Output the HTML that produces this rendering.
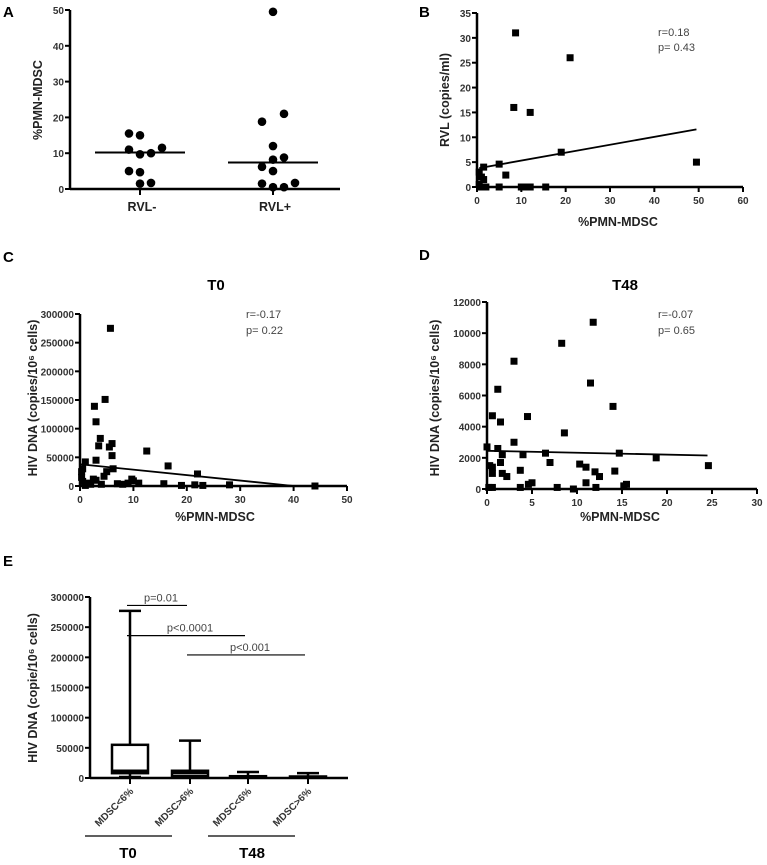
<!DOCTYPE html>
<html><head><meta charset="utf-8"><style>
html,body{margin:0;padding:0;background:#fff;}
svg{display:block;font-family:"Liberation Sans",Arial,sans-serif;}
.tk{font-size:10px;font-weight:bold;fill:#333;}
.lab{font-size:12.5px;font-weight:bold;fill:#222;}
.pl{font-size:15px;font-weight:bold;fill:#000;}
.st{font-size:11px;fill:#444;}
</style></head><body>
<svg id="fig" width="767" height="865" viewBox="0 0 767 865" xmlns="http://www.w3.org/2000/svg">
<text class="pl" x="3" y="17">A</text>
<text class="pl" x="419" y="17">B</text>
<text class="pl" x="3" y="262">C</text>
<text class="pl" x="419" y="260">D</text>
<text class="pl" x="3" y="566">E</text>
</svg>
<script>
// ---------- data ----------
const aTicks=[0,10,20,30,40,50];
const aCats=["RVL-","RVL+"];
const aNegVals=[15.5,15,11,11.5,9.7,10,5,4.7,1.5,1.7];
const aNegOff=[-1,0,-1,2,0,1,-1,0,0,1];
const aPosVals=[49.5,21,18.8,12,8.2,8.8,6.2,5,1.5,0.5,1.7,0.5];
const aPosOff=[0,1,-1,0,0,1,-1,0,-1,0,2,1];
const aMedians=[10.2,7.4];

const bTicksY=[0,5,10,15,20,25,30,35];
const bTicksX=[0,10,20,30,40,50,60];
const bX=[8.7,21,8.3,12,19,49.5,5,6.5,1.5,0.5,1,1.5,1,2,5,10,11,12,15.5,0.5];
const bY=[31,26,16,15,7,5,4.6,2.4,4,3,2,1.5,0,0,0,0,0,0,0,0.5];
const bFit=[[0.5,3.8],[49.5,11.6]];

const cTicksY=[0,50000,100000,150000,200000,250000,300000];
const cTicksX=[0,10,20,30,40,50];
const cX=[5.7,4.7,2.7,3,3.8,3.5,5.5,6,6,12.5,16.5,22,3,1,0.5,0.3,4.5,5,6.2,2.5,3,9.7,10,1.5,0.5,2,4,7,8,9,11,15.7,19,21.5,23,28,44,1,0.3];
const cY=[275000,151000,139000,112000,83000,70000,68000,74000,53000,61000,35000,21000,45000,42000,30000,25000,17000,25000,30000,12000,10000,12000,9000,5000,8000,3000,3000,4000,3000,5000,5000,4000,1000,2000,1000,2000,0,1000,15000];
const cFit=[[0,38000],[40,0]];

const dTicksY=[0,2000,4000,6000,8000,10000,12000];
const dTicksX=[0,5,10,15,20,25,30];
const dX=[11.8,8.3,3,11.5,1.2,14,0.6,4.5,1.5,8.6,3,0,1.2,1.7,4,6.5,7,14.7,18.8,24.6,0.3,0.6,1.5,1.7,0.6,2.2,3.7,10.3,11,12,12.5,14.2,0.6,0.2,3.7,4.6,5,7.8,9.6,11,12.1,15.2,15.5];
const dY=[10700,9350,8200,6800,6400,5300,4700,4650,4300,3600,3000,2700,2600,2200,2200,2300,1700,2300,2000,1500,1500,1400,1700,1000,1000,800,1200,1600,1400,1100,800,1150,100,100,100,300,400,100,0,400,100,200,300];
const dFit=[[0,2450],[24.5,2150]];

const eTicksY=[0,50000,100000,150000,200000,250000,300000];
const eCats=["MDSC<6%","MDSC>6%","MDSC<6%","MDSC>6%"];
const eMin=[2000,0,0,0];
const eQ1=[8000,3000,1000,500];
const eMed=[12000,8000,2000,1500];
const eQ3=[55000,12000,3000,2500];
const eMax=[277000,62000,10000,8000];
const eSig=[["p=0.01",0,1,286000],["p<0.0001",0,2,236000],["p<0.001",1,3,204000]];

// ---------- helpers ----------
const svg=document.getElementById('fig');
const NS="http://www.w3.org/2000/svg";
function mk(tag,attrs,parent){const e=document.createElementNS(NS,tag);for(const k in attrs)e.setAttribute(k,attrs[k]);(parent||svg).appendChild(e);return e;}
function lin(d0,d1,r0,r1){return v=>r0+(v-d0)/(d1-d0)*(r1-r0);}
function txt(s,attrs,name){const t=mk('text',attrs);t.textContent=s;


return t;}
function yAxis(ticks,sy,x0,name){const l=mk('line',{x1:x0,x2:x0,y1:sy(ticks[ticks.length-1]),y2:sy(ticks[0]),stroke:'#000','stroke-width':2.5});


ticks.forEach(t=>{mk('line',{x1:x0-5,x2:x0,y1:sy(t),y2:sy(t),stroke:'#000','stroke-width':2});
txt(String(t),{class:'tk',x:x0-6,y:sy(t)+4,'text-anchor':'end'},name+'-y-tick-label');});}
function xAxis(ticks,sx,y0,name){const l=mk('line',{x1:sx(ticks[0]),x2:sx(ticks[ticks.length-1]),y1:y0,y2:y0,stroke:'#000','stroke-width':2.5});


ticks.forEach(t=>{mk('line',{x1:sx(t),x2:sx(t),y1:y0,y2:y0+5,stroke:'#000','stroke-width':2});
txt(String(t),{class:'tk',x:sx(t),y:y0+17,'text-anchor':'middle'},name+'-x-tick-label');});}
function squares(xs,ys,sx,sy,name){xs.forEach((v,i)=>{const r=mk('rect',{x:sx(v)-3.5,y:sy(ys[i])-3.5,width:7,height:7,fill:'#000'});

});}
function fit(f,sx,sy,name){const l=mk('line',{x1:sx(f[0][0]),y1:sy(f[0][1]),x2:sx(f[1][0]),y2:sy(f[1][1]),stroke:'#000','stroke-width':1.8});

}
function ylab(s,x,y,name){txt(s,{class:'lab',x:x,y:y,'text-anchor':'middle',transform:`rotate(-90 ${x} ${y})`},name);}

// ---------- Panel A ----------
{const sy=lin(0,50,189,10);const cx=[140,273];
yAxis(aTicks,sy,70,'panel-a');
const ax=mk('line',{x1:70,x2:340,y1:189,y2:189,stroke:'#000','stroke-width':2.5});


aCats.forEach((c,i)=>{mk('line',{x1:cx[i],x2:cx[i],y1:189,y2:195,stroke:'#000','stroke-width':2});
txt(c,{class:'lab',x:cx[i]+2,y:211,'text-anchor':'middle'},'panel-a-category-label');
const m=mk('line',{x1:cx[i]-45,x2:cx[i]+45,y1:sy(aMedians[i]),y2:sy(aMedians[i]),stroke:'#000','stroke-width':2});

});
[[aNegVals,aNegOff],[aPosVals,aPosOff]].forEach((g,i)=>g[0].forEach((v,j)=>{const c=mk('circle',{cx:cx[i]+g[1][j]*11,cy:sy(v),r:4.3,fill:'#000'});

}));
ylab('%PMN-MDSC',42,100,'panel-a-y-axis-title');}

// ---------- Panel B ----------
{const sx=lin(0,60,477,743),sy=lin(0,35,187,13);
yAxis(bTicksY,sy,477,'panel-b');xAxis(bTicksX,sx,187,'panel-b');
squares(bX,bY,sx,sy,'panel-b');fit(bFit,sx,sy,'panel-b');
ylab('RVL (copies/ml)',449,100,'panel-b-y-axis-title');
txt('%PMN-MDSC',{class:'lab',x:618,y:226,'text-anchor':'middle'},'panel-b-x-axis-title');
txt('r=0.18',{class:'st',x:658,y:36},'panel-b-r-value');
txt('p= 0.43',{class:'st',x:658,y:51},'panel-b-p-value');}

// ---------- Panel C ----------
{const sx=lin(0,50,80,347),sy=lin(0,300000,486,314);
yAxis(cTicksY,sy,80,'panel-c');xAxis(cTicksX,sx,486,'panel-c');
squares(cX,cY,sx,sy,'panel-c');fit(cFit,sx,sy,'panel-c');
txt('T0',{class:'pl',x:216,y:290,'text-anchor':'middle'},'panel-c-title');
ylab('HIV DNA (copies/10\u2076 cells)',37,398,'panel-c-y-axis-title');
txt('%PMN-MDSC',{class:'lab',x:215,y:521,'text-anchor':'middle'},'panel-c-x-axis-title');
txt('r=-0.17',{class:'st',x:246,y:318},'panel-c-r-value');
txt('p= 0.22',{class:'st',x:246,y:334},'panel-c-p-value');}

// ---------- Panel D ----------
{const sx=lin(0,30,487,757),sy=lin(0,12000,489,302);
yAxis(dTicksY,sy,487,'panel-d');xAxis(dTicksX,sx,489,'panel-d');
squares(dX,dY,sx,sy,'panel-d');fit(dFit,sx,sy,'panel-d');
txt('T48',{class:'pl',x:625,y:290,'text-anchor':'middle'},'panel-d-title');
ylab('HIV DNA (copies/10\u2076 cells)',439,398,'panel-d-y-axis-title');
txt('%PMN-MDSC',{class:'lab',x:620,y:521,'text-anchor':'middle'},'panel-d-x-axis-title');
txt('r=-0.07',{class:'st',x:658,y:318},'panel-d-r-value');
txt('p= 0.65',{class:'st',x:658,y:334},'panel-d-p-value');}

// ---------- Panel E ----------
{const sy=lin(0,300000,778,597);const cx=[130,190,248,308];const hw=18;
yAxis(eTicksY,sy,90,'panel-e');
const ax=mk('line',{x1:90,x2:348,y1:778,y2:778,stroke:'#000','stroke-width':2.5});


eCats.forEach((c,i)=>{const x=cx[i];
mk('line',{x1:x,x2:x,y1:sy(eMax[i]),y2:sy(eQ3[i]),stroke:'#000','stroke-width':2.5});
mk('line',{x1:x,x2:x,y1:sy(eQ1[i]),y2:sy(eMin[i]),stroke:'#000','stroke-width':2.5});
mk('line',{x1:x-11,x2:x+11,y1:sy(eMax[i]),y2:sy(eMax[i]),stroke:'#000','stroke-width':2.5});
mk('line',{x1:x-11,x2:x+11,y1:sy(eMin[i]),y2:sy(eMin[i]),stroke:'#000','stroke-width':2});
const b=mk('rect',{x:x-hw,y:sy(eQ3[i]),width:2*hw,height:Math.max(1,sy(eQ1[i])-sy(eQ3[i])),fill:'#fff',stroke:'#000','stroke-width':2.5});


mk('line',{x1:x-hw,x2:x+hw,y1:sy(eMed[i]),y2:sy(eMed[i]),stroke:'#000','stroke-width':2.5});
mk('line',{x1:x,x2:x,y1:778,y2:784,stroke:'#000','stroke-width':2});
txt(c,{class:'tk',x:x+4,y:792,'text-anchor':'end','font-size':'9','transform':`rotate(-45 ${x+4} 792)`},'panel-e-category-label');});
eSig.forEach(s=>{const y=sy(s[3]);const x1=cx[s[1]]-3,x2=cx[s[2]]-3;
const l=mk('line',{x1:x1,x2:x2,y1:y,y2:y,stroke:'#000','stroke-width':1.2});


txt(s[0],{class:'st',x:(x1+x2)/2+4,y:y-4,'text-anchor':'middle'},'panel-e-p-value');});
[[85,172,'T0',128],[208,295,'T48',252]].forEach(g=>{const l=mk('line',{x1:g[0],x2:g[1],y1:836,y2:836,stroke:'#000','stroke-width':1.2});


txt(g[2],{class:'pl',x:g[3],y:858,'text-anchor':'middle'},'panel-e-group-label');});
ylab('HIV DNA (copie/10\u2076 cells)',37,688,'panel-e-y-axis-title');}
</script>
</body></html>
